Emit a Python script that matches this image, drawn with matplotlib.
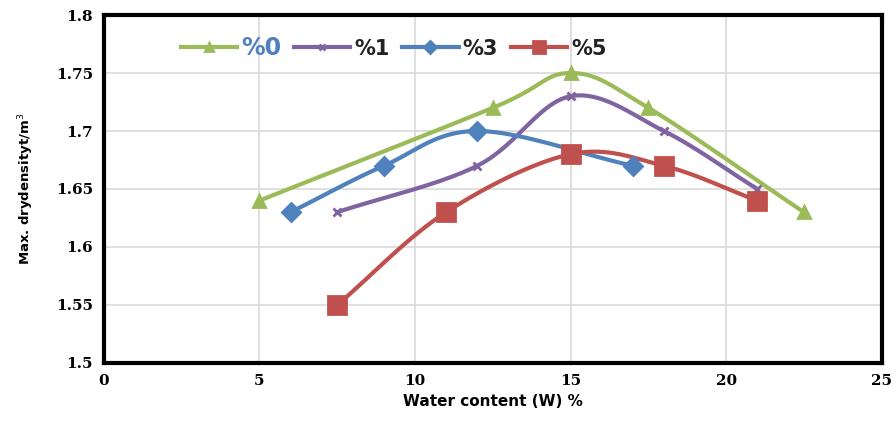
import numpy as np
import matplotlib
matplotlib.use('Agg')
import matplotlib.pyplot as plt

# water content (%) and max dry density for each additive percentage
x0 = [5, 12.5, 15, 17.5, 22.5]
y0 = [1.64, 1.72, 1.75, 1.72, 1.63]
x1 = [7.5, 12, 15, 18, 21]
y1 = [1.63, 1.67, 1.73, 1.70, 1.65]
x3 = [6, 9, 12, 17]
y3 = [1.63, 1.67, 1.70, 1.67]
x5 = [7.5, 11, 15, 18, 21]
y5 = [1.55, 1.63, 1.68, 1.67, 1.64]
labels = ['%0', '%1', '%3', '%5']


def smooth(xs, ys, n=30):
    # catmull-rom style curve, similar to excel "smoothed line"
    xs = np.asarray(xs, float)
    ys = np.asarray(ys, float)
    px = np.concatenate([[2 * xs[0] - xs[1]], xs, [2 * xs[-1] - xs[-2]]])
    py = np.concatenate([[2 * ys[0] - ys[1]], ys, [2 * ys[-1] - ys[-2]]])
    ox, oy = [], []
    t = np.linspace(0, 1, n)
    for i in range(1, len(px) - 2):
        for p, out in ((px, ox), (py, oy)):
            a, b, c, d = p[i - 1], p[i], p[i + 1], p[i + 2]
            out.extend(0.5 * (2 * b + (-a + c) * t + (2 * a - 5 * b + 4 * c - d) * t ** 2
                              + (-a + 3 * b - 3 * c + d) * t ** 3))
    return ox, oy


fig = plt.figure(figsize=(8.96, 4.3), dpi=100)
ax = fig.add_axes([0.116, 0.156, 0.868, 0.809])

series = [
    (x0, y0, '#9BBB59', '^', 8),
    (x1, y1, '#8064A2', 'x', 6),
    (x3, y3, '#4F81BD', 'D', 9),
    (x5, y5, '#C0504D', 's', 13),
]
handles = []
for (xs, ys, col, mk, ms), lab in zip(series, labels):
    sx, sy = smooth(xs, ys)
    ax.plot(sx, sy, color=col, lw=3, zorder=3)
    ax.plot(xs, ys, ls='none', marker=mk, color=col, ms=ms, mew=2, zorder=4)
    h, = ax.plot([], [], color=col, lw=3, marker=mk, ms=ms * 0.7, mew=2)
    handles.append(h)

ax.set_xlim(0, 25)
ax.set_ylim(1.5, 1.8)
ax.set_xticks([0, 5, 10, 15, 20, 25])
ax.set_yticks([1.5, 1.55, 1.6, 1.65, 1.7, 1.75, 1.8])
ax.set_yticklabels(['1.5', '1.55', '1.6', '1.65', '1.7', '1.75', '1.8'])
ax.grid(True, color='#D9D9D9', lw=1.2)
ax.set_axisbelow(True)
ax.tick_params(length=0, labelsize=11, pad=8)
for lab in ax.get_xticklabels() + ax.get_yticklabels():
    lab.set_fontweight('bold')
    lab.set_family('DejaVu Serif')
for s in ax.spines.values():
    s.set_linewidth(3)
    s.set_color('black')

ax.set_xlabel('Water content (W) %', fontsize=11, fontweight='bold')
ax.set_ylabel('Max. drydensityt/m$^3$', fontsize=9.5, fontweight='bold', labelpad=14)

leg = ax.legend(handles, labels, loc='upper left', bbox_to_anchor=(0.075, 0.995), ncol=4,
                frameon=False, fontsize=15, handlelength=2.7, handletextpad=0.2,
                columnspacing=0.6)
for i, t in enumerate(leg.get_texts()):
    t.set_fontweight('bold')
    if i == 0:
        t.set_color('#4F81BD')
        t.set_fontsize(17)
    else:
        t.set_color('#222222')

fig.savefig('out.png', dpi=100)
